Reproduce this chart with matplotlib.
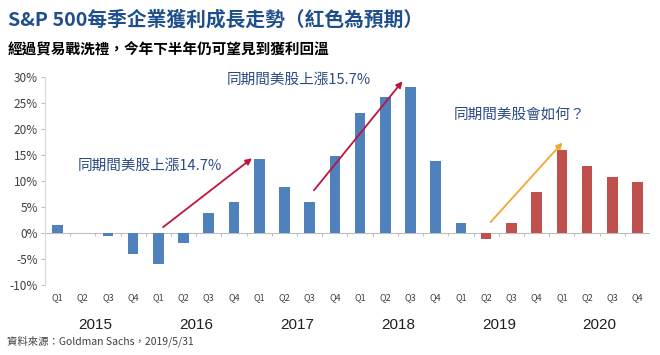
import numpy as np
import matplotlib
matplotlib.use('Agg')
import matplotlib.pyplot as plt

plt.rcParams['font.family'] = ['Noto Sans CJK TC', 'DejaVu Sans']

years = ['2015', '2016', '2017', '2018', '2019', '2020']
quarters = ['Q1', 'Q2', 'Q3', 'Q4']
growth = [1.5, 0, -0.5, -4,
          -6, -2, 3.8, 6,
          14.3, 8.8, 5.9, 14.9,
          23.1, 26.1, 28.1, 13.9,
          2, -1.1, 2, 7.9,
          15.9, 12.9, 10.8, 9.8]
first_forecast = 17  # 2019 Q2 onward is red (forecast)

blue = '#4F81BD'
red = '#C0504D'
colors = [blue if i < first_forecast else red for i in range(len(growth))]

fig = plt.figure(figsize=(6.6, 3.55), dpi=100)
ax = fig.add_axes([0.068, 0.197, 0.917, 0.586])

x = np.arange(len(growth))
ax.bar(x, growth, width=0.42, color=colors, zorder=3)
ax.axhline(0, color='#BFBFBF', lw=0.8, zorder=2)
ax.vlines(np.arange(len(growth) + 1) - 0.5, -0.5, 0, color='#BFBFBF', lw=0.8)

ax.set_xlim(-0.5, len(growth) - 0.5)
ax.set_ylim(-10, 30)
ax.set_yticks(np.arange(-10, 31, 5))
ax.set_yticklabels([f'{v}%' for v in range(-10, 31, 5)], color='#404040', fontsize=8.5)
ax.set_xticks(x)
ax.set_xticklabels(quarters * len(years), fontsize=6.5, color='#404040')
ax.tick_params(axis='x', length=0, pad=6)
ax.tick_params(axis='y', length=3, color='#BFBFBF', pad=2)
for s in ['top', 'right', 'bottom']:
    ax.spines[s].set_visible(False)
ax.spines['left'].set_color('#D9D9D9')

for i, yr in enumerate(years):
    ax.text(i * 4 + 1.5, -0.19, yr, transform=ax.get_xaxis_transform(),
            ha='center', va='center', fontsize=11, color='#202020',
            family='Liberation Sans')

# arrows and notes
arrow_red = '#C0143C'
ax.annotate('', xy=(7.8, 14.7), xytext=(4.1, 0.8),
            arrowprops=dict(arrowstyle='-|>', color=arrow_red, lw=1.3, mutation_scale=9))
ax.annotate('', xy=(13.75, 29.6), xytext=(10.1, 7.8),
            arrowprops=dict(arrowstyle='-|>', color=arrow_red, lw=1.3, mutation_scale=9))
ax.annotate('', xy=(20.1, 17.8), xytext=(17.1, 1.7),
            arrowprops=dict(arrowstyle='-|>', color='#F0A830', lw=1.3, mutation_scale=9))

note_color = '#2B4A86'
ax.text(0.8, 12.9, '同期間美股上漲14.7%', fontsize=10.5, color=note_color, va='center')
ax.text(6.7, 29.4, '同期間美股上漲15.7%', fontsize=10.5, color=note_color, va='center')
ax.text(15.7, 22.7, '同期間美股會如何？', fontsize=10.5, color=note_color, va='center')

fig.text(0.012, 0.945, 'S&P 500每季企業獲利成長走勢（紅色為預期）', fontsize=14.2,
         fontweight='bold', color='#1F4E8C', va='center')
fig.text(0.012, 0.86, '經過貿易戰洗禮，今年下半年仍可望見到獲利回溫', fontsize=10.5,
         fontweight='bold', color='#000000', va='center')
fig.text(0.01, 0.04, '資料來源：Goldman Sachs，2019/5/31', fontsize=7.5,
         color='#404040', va='center')

fig.savefig('out.png', dpi=100)
